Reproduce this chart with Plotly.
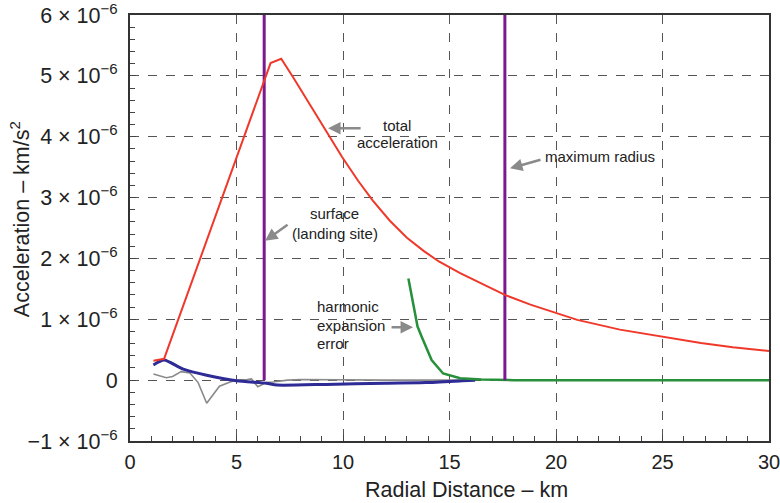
import plotly.graph_objects as go

# ---- data (km, 1e-6 km/s^2) ----
red_x = [1.1, 1.6, 6.6, 7.1, 7.65, 8.4, 9.15, 9.95, 10.7, 11.4, 12.2, 13.0, 13.8, 14.5, 15.5, 16.4,
         17.6, 18.8, 20, 21, 23, 25, 26.8, 28.3, 30]
red_y = [0.32, 0.35, 5.21, 5.28, 4.98, 4.55, 4.13, 3.67, 3.28, 2.95, 2.62, 2.34, 2.12, 1.95, 1.76, 1.60,
         1.40, 1.24, 1.10, 0.99, 0.83, 0.71, 0.61, 0.54, 0.48]

blue_x = [1.1, 1.6, 2.5, 3.6, 5.0, 6.4, 6.9, 9.2, 12.0, 13.9, 15.6, 16.2]
blue_y = [0.25, 0.33, 0.18, 0.08, -0.01, -0.05, -0.08, -0.07, -0.05, -0.04, -0.01, 0.0]

gray_x = [1.1, 1.7, 2.0, 2.4, 2.8, 3.2, 3.6, 4.2, 4.7, 5.0, 5.5, 5.7, 6.0, 6.4, 6.7, 7.4, 8, 10, 12, 14, 16]
gray_y = [0.10, 0.04, 0.06, 0.14, 0.12, -0.04, -0.38, -0.10, -0.03, 0.0, 0.01, 0.02, -0.11, -0.04, -0.03, 0.0, 0.01, 0.0, 0.0, 0.0, 0.0]

green_x = [13.07, 13.5, 13.7, 14.16, 14.7, 15.5, 16.5, 18, 20, 25, 30]
green_y = [1.67, 0.88, 0.71, 0.33, 0.11, 0.03, 0.01, 0.0, 0.0, 0.0, 0.0]

surface_radius = 6.3
max_radius = 17.6
marker_top = 6.0

y_ticks = [-1, 0, 1, 2, 3, 4, 5, 6]
y_ticktext = ["\u22121 \u00d7 10<sup>\u22126</sup>", "0"] + [f"{v} \u00d7 10<sup>\u22126</sup>" for v in range(1, 7)]
x_ticks = [0, 5, 10, 15, 20, 25, 30]

S = 1e-6
FONT = "Liberation Sans, Arial, Helvetica, sans-serif"

fig = go.Figure()
fig.add_trace(go.Scatter(x=gray_x, y=[v * S for v in gray_y], mode="lines",
                         line=dict(color="#8a8a8a", width=1.6)))
fig.add_trace(go.Scatter(x=blue_x, y=[v * S for v in blue_y], mode="lines",
                         line=dict(color="#2e2a96", width=3, shape="spline", smoothing=0.6)))
fig.add_trace(go.Scatter(x=green_x, y=[v * S for v in green_y], mode="lines",
                         line=dict(color="#27903a", width=2.5)))
for r in (surface_radius, max_radius):
    fig.add_trace(go.Scatter(x=[r, r], y=[0, marker_top * S], mode="lines",
                             line=dict(color="#7a1a8e", width=3)))
fig.add_trace(go.Scatter(x=red_x, y=[v * S for v in red_y], mode="lines",
                         line=dict(color="#f0382a", width=2)))

grid = dict(showgrid=True, gridcolor="#555555", gridwidth=1, griddash="dash")
fig.update_xaxes(range=[0, 30], tickvals=x_ticks, ticks="inside", ticklen=6, tickcolor="#444",
                 showline=True, linecolor="#333", linewidth=2, mirror=True, automargin=False,
                 ticklabeloverflow="allow",
                 minor=dict(dtick=1, ticks="inside", ticklen=5, tickcolor="#444", showgrid=False),
                 tickfont=dict(size=20, color="#222", family=FONT), ticklabelstandoff=2,
                 zeroline=False, **grid)
fig.update_yaxes(range=[-1 * S, 6 * S], tickvals=[v * S for v in y_ticks], ticktext=y_ticktext,
                 ticks="inside", ticklen=6, tickcolor="#444", automargin=False,
                 ticklabeloverflow="allow",
                 showline=True, linecolor="#333", linewidth=2, mirror=True,
                 minor=dict(dtick=0.2 * S, ticks="inside", ticklen=5, tickcolor="#444", showgrid=False),
                 tickfont=dict(size=21.5, color="#222", family=FONT), ticklabelstandoff=6,
                 zeroline=False, **grid)

ann = []
tf = dict(size=15, color="#222", family=FONT)
# callout labels, one line each
for txt, x, y, xa in [("total", 12.54, 4.19, "center"), ("acceleration", 12.54, 3.90, "center"),
                      ("surface", 9.62, 2.745, "center"), ("(landing site)", 9.62, 2.417, "center"),
                      ("maximum radius", 22.07, 3.682, "center"),
                      ("harmonic", 8.69, 1.215, "left"), ("expansion", 8.69, 0.905, "left"),
                      ("error", 8.69, 0.60, "left")]:
    ann.append(dict(x=x, y=y * S, text=txt, showarrow=False, font=tf, xanchor=xa, yanchor="middle"))
arrow = dict(text="", showarrow=True, arrowhead=2, arrowsize=1, arrowwidth=2.5, arrowcolor="#8a8a8a")
ann.append(dict(x=9.3, y=4.14 * S, ax=34, ay=0, **arrow))
ann.append(dict(x=6.34, y=2.29 * S, ax=24, ay=-17, **arrow))
ann.append(dict(x=17.84, y=3.48 * S, ax=32, ay=-9, **arrow))
ann.append(dict(x=13.29, y=0.87 * S, ax=-23, ay=0, **arrow))
# axis titles
ann.append(dict(xref="paper", yref="paper", x=-0.172, y=0.521, text="Acceleration \u2013 km/s<sup>2</sup>",
                textangle=-90, showarrow=False, xanchor="center", yanchor="middle",
                font=dict(size=21.5, color="#222", family=FONT)))
ann.append(dict(xref="paper", yref="paper", x=0.526, y=-0.115, text="Radial Distance \u2013 km",
                showarrow=False, xanchor="center", yanchor="middle",
                font=dict(size=21.5, color="#222", family=FONT)))

fig.update_layout(width=780, height=503, margin=dict(l=130, r=11, t=15, b=62),
                  paper_bgcolor="white", plot_bgcolor="white", showlegend=False,
                  annotations=ann, font=dict(family=FONT))
fig.write_html("out.html")
